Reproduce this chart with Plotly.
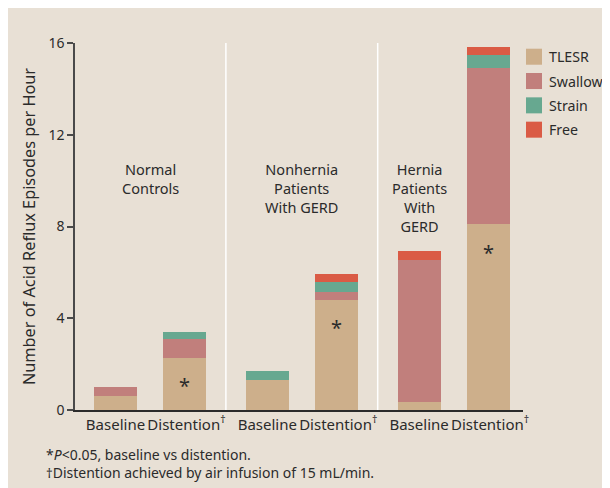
import plotly.graph_objects as go

categories = ["Baseline", "\u00a0Distention<sup>†</sup>", "Baseline", "\u00a0Distention<sup>†</sup>",
              "Baseline", "\u00a0Distention<sup>†</sup>"]
group_index = [0, 0, 1, 1, 2, 2]
within_index = [0, 1, 0, 1, 0, 1]
group_labels = [["Normal", "Controls"], ["Nonhernia", "Patients", "With GERD"],
                ["Hernia", "Patients", "With", "GERD"]]
footnotes = ["*<i>P</i><0.05, baseline vs distention.",
             "<span style='font-size:13px'>†</span>Distention achieved by air infusion of 15 mL/min."]

tlesr = [0.6, 2.27, 1.3, 4.8, 0.35, 8.1]
swallow = [0.4, 0.81, 0.0, 0.35, 6.2, 6.8]
strain = [0.0, 0.32, 0.4, 0.43, 0.0, 0.57]
free = [0.0, 0.0, 0.0, 0.35, 0.4, 0.35]
significant = [False, True, False, True, False, True]

series_names = ["TLESR", "Swallow", "Strain", "Free"]
series_values = [tlesr, swallow, strain, free]
series_colors = ["#CDAF8B", "#C17F7C", "#67A890", "#DA5B45"]

GROUP_STEP = 2.2
xpos = [g * GROUP_STEP + w for g, w in zip(group_index, within_index)]

BG = "#E8E0D5"
TXT = "#2B2B2B"
FONT = "Noto Sans"

# page offset (body margin) and plot-area geometry in screen pixels
OFF = 8
L, R, T, B = 75 - OFF, 523 - OFF, 43.3 - OFF, 410 - OFF
W_PX, H_PX = R - L, B - T


def px_x(p):
    return (p - OFF - L) / W_PX


def px_y(q):
    return (B - (q - OFF)) / H_PX


fig = go.Figure()
for name, vals, col in zip(series_names, series_values, series_colors):
    fig.add_trace(go.Bar(x=xpos, y=vals, name=name, marker=dict(color=col, line=dict(width=0)),
                         width=0.623, showlegend=False))

annotations = []
# asterisks
for x, t, s in zip(xpos, tlesr, significant):
    if s:
        annotations.append(dict(x=x, y=t - 1.22, text="*", showarrow=False,
                                font=dict(size=20, color=TXT, family=FONT), xref="x", yref="y",
                                yanchor="middle"))
# group labels
GL_SIZE = 14.5
GL_LH = GL_SIZE * 1.3
group_label_x = [0.5, 1 * GROUP_STEP + 0.5, 2 * GROUP_STEP]
for gx, lines in zip(group_label_x, group_labels):
    yc = 169 + (len(lines) - 1) * GL_LH / 2
    annotations.append(dict(x=gx, y=px_y(yc), text="<br>".join(lines), showarrow=False,
                            xref="x", yref="paper", yanchor="middle", xanchor="center",
                            align="center", font=dict(size=GL_SIZE, color=TXT, family=FONT)))
# footnotes
annotations.append(dict(x=px_x(44), y=px_y(463), xref="paper", yref="paper",
                        xanchor="left", yanchor="middle", align="left", showarrow=False,
                        text="<br>".join(footnotes), font=dict(size=14, color=TXT, family=FONT)))

shapes = []
# divider lines between groups
for g in range(1, 3):
    xd = (g - 1) * GROUP_STEP + 1 + (GROUP_STEP - 1) / 2
    shapes.append(dict(type="line", xref="x", yref="y", x0=xd, x1=xd, y0=0, y1=16.05,
                       line=dict(color="white", width=1.5), layer="below"))

# custom legend (squares + labels)
for i, (name, col) in enumerate(zip(series_names, series_colors)):
    top = 49 + i * 24.3
    shapes.append(dict(type="rect", xref="paper", yref="paper", x0=px_x(526), x1=px_x(542),
                       y0=px_y(top + 16), y1=px_y(top), fillcolor=col, line=dict(width=0)))
    annotations.append(dict(x=px_x(547), y=px_y(top + 8), xref="paper", yref="paper",
                            xanchor="left", yanchor="middle", text=name, showarrow=False,
                            font=dict(size=14.2, color=TXT, family=FONT)))

fig.update_layout(
    barmode="stack",
    width=610, height=488,
    margin=dict(l=L, r=610 - R, t=T, b=488 - B, pad=0, autoexpand=False),
    paper_bgcolor=BG, plot_bgcolor=BG,
    font=dict(family=FONT, color=TXT, size=14),
    bargap=0,
    showlegend=False,
    xaxis=dict(range=[-0.587, 5.906], tickmode="array", tickvals=xpos, ticktext=categories,
               showgrid=False, zeroline=False, showline=True, linecolor="#2B2B2B", linewidth=1.5,
               ticks="", tickangle=0, automargin=False,
               tickfont=dict(size=15, color=TXT, family=FONT), fixedrange=True),
    yaxis=dict(range=[0, 16], tickvals=[0, 4, 8, 12, 16], showgrid=False, zeroline=False,
               showline=True, linecolor="#4A4A4A", linewidth=1.5, ticks="outside", ticklen=6,
               tickcolor="#4A4A4A", tickwidth=1.5, automargin=False,
               tickfont=dict(size=14, color=TXT, family=FONT),
               title=dict(text="Number of Acid Reflux Episodes per Hour", standoff=9,
                          font=dict(size=16.3, color=TXT, family=FONT))),
    annotations=annotations, shapes=shapes,
)

fig.write_html("out.html")
